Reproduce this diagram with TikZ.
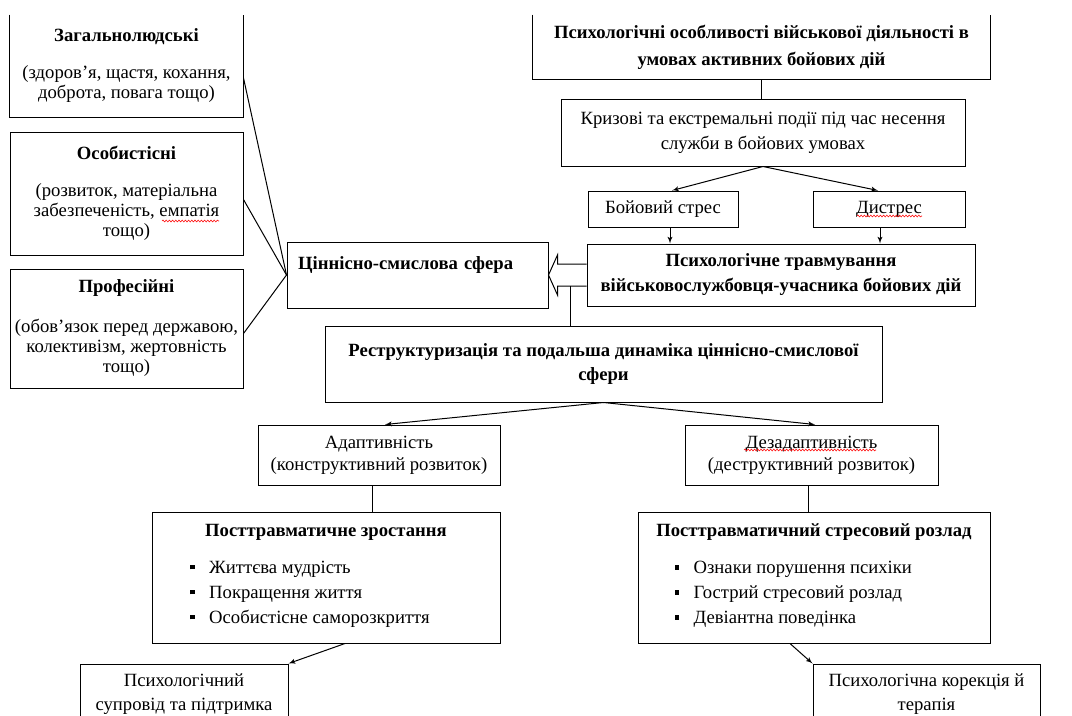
\documentclass[tikz,border=0pt]{standalone}
\usepackage{fontspec}
\setmainfont{Liberation Serif}
\usetikzlibrary{arrows,calc,decorations.pathmorphing}

\newcommand{\bul}{\rule[3pt]{3.2pt}{3.2pt}\hspace{11pt}}

\tikzset{
  blk/.style={draw, rectangle, align=center, inner sep=3pt, font=\fontsize{14}{18.75}\selectfont},
  opentop/.style={blk, draw=none},
  sz/.style 2 args={minimum width=#1*0.75pt, minimum height=#2*0.75pt},
  spell/.style={red, line width=0.4pt, decorate, decoration={snake, amplitude=0.7pt, segment length=2.4pt}},
}

\begin{document}
\begin{tikzpicture}[x=0.75pt, y=-0.75pt, >=latex', line width=0.75pt]
\path[use as bounding box, clip] (0,0) rectangle (1072,715);

\node[opentop, sz={233}{102}, font=\fontsize{14}{15}\selectfont] (zag) at (126.5,66)
  {\textbf{Загальнолюдські}\\[12.75pt](здоров’я, щастя, кохання,\\доброта, повага тощо)};
\node[blk, sz={233}{123}, font=\fontsize{14}{15}\selectfont] (osob) at (126.5,193.5)
  {\textbf{Особистісні}\\[12.75pt](розвиток, матеріальна\\забезпеченість, емпатія\\тощо)};
\node[blk, sz={233}{119}, font=\fontsize{14}{15}\selectfont] (prof) at (126.5,328.5)
  {\textbf{Професійні}\\[15pt](обов’язок перед державою,\\колективізм, жертовність\\тощо)};

\node[opentop, sz={457}{64}, font=\fontsize{14}{20.25}\bfseries] (osobl) at (761.5,47)
  {Психологічні особливості військової діяльності в\\умовах активних бойових дій};
\node[blk, sz={404}{67}] (kryz) at (763,132.5)
  {Кризові та екстремальні події під час несення\\служби в бойових умовах};
\node[blk, sz={150}{36}] (boy) at (663,209) {Бойовий стрес};
\node[blk, sz={152}{36}] (dys) at (889,209) {Дистрес};
\node[blk, sz={388}{62}, font=\fontsize{14}{18.75}\bfseries] (trauma) at (781,275)
  {Психологічне травмування\\військовослужбовця-учасника бойових дій};
\node[blk, sz={261}{66}, align=left, inner xsep=8.25pt, text width=179pt, text depth=18pt,
  font=\fontsize{14}{18.75}\bfseries] (cin) at (417.5,275) {Ціннісно-смислова сфера};

\node[blk, sz={557}{76}, font=\fontsize{14}{18}\bfseries] (restr) at (603.5,364)
  {Реструктуризація та подальша динаміка ціннісно-смислової\\сфери};
\node[blk, sz={242}{60}, font=\fontsize{14}{16.5}\selectfont] (adapt) at (379,455)
  {Адаптивність\\(конструктивний розвиток)};
\node[blk, sz={253}{60}, font=\fontsize{14}{16.5}\selectfont] (dezad) at (811.5,455)
  {Дезадаптивність\\(деструктивний розвиток)};

\node[blk, sz={348}{131}] (ptz) at (326,577.5)
  {\textbf{Посттравматичне зростання}\\[9pt]
   \begin{tabular}[t]{@{}l@{}}\bul Життєва мудрість\\ \bul Покращення життя\\
   \bul Особистісне саморозкриття\end{tabular}\hspace*{24pt}};
\node[blk, sz={352}{131}] (ptsr) at (814,577.5)
  {\textbf{Посттравматичний стресовий розлад}\\[9pt]
   \begin{tabular}[t]{@{}l@{}}\bul Ознаки порушення психіки\\ \bul Гострий стресовий розлад\\
   \bul Девіантна поведінка\end{tabular}\hspace*{31pt}};

\node[blk, sz={208}{60}, font=\fontsize{14}{18}\selectfont] (suprov) at (184,694)
  {Психологічний\\супровід та підтримка};
\node[blk, sz={227}{60}, font=\fontsize{14}{18}\selectfont] (korek) at (926.5,694)
  {Психологічна корекція й\\терапія};

% boxes cut at the top edge
\draw (zag.north west) -- (zag.south west) -- (zag.south east) -- (zag.north east);
\draw (osobl.north west) -- (osobl.south west) -- (osobl.south east) -- (osobl.north east);

\draw (osobl.south) -- (osobl.south |- kryz.north);
\draw [->] (kryz.south) -- ($(boy.north)+(9,0)$);
\draw [->] (kryz.south) -- ($(dys.north)+(-11,0)$);
\draw [->] ($(boy.south)+(7,0)$) -- ($(boy.south |- trauma.north)+(7,0)$);
\draw [->] ($(dys.south)+(-9,0)$) -- ($(dys.south |- trauma.north)+(-9,0)$);

\draw ($(zag.east)+(0,12)$) -- (cin.west);
\draw ($(osob.east)+(0,6)$) -- (cin.west);
\draw ($(prof.east)+(0,5)$) -- (cin.west);

\draw ($(trauma.west)+(0,-11)$) -| ($(cin.east)+(9,-20)$) -- (cin.east)
  -- ($(cin.east)+(9,20)$) |- ($(trauma.west)+(0,11)$);
\coordinate (split) at ($(trauma.west)+(-16,11)$);
\draw (split) -- (split |- restr.north);

\draw [->] (restr.south) -- ($(adapt.north)+(6,0)$);
\draw [->] (restr.south) -- ($(dezad.north)+(3.5,0)$);
\draw ($(adapt.south)+(-7,0)$) -- ($(adapt.south |- ptz.north)+(-7,0)$);
\draw ($(dezad.south)+(-3.5,0)$) -- ($(dezad.south |- ptsr.north)+(-3.5,0)$);
\draw [->] ($(ptz.south)+(19,0)$) -- (suprov.north east);
\draw [->] ($(ptsr.south)+(-24,0)$) -- (korek.north west);

% spell-check marks
\draw [spell] (162,221) -- (219,221);
\draw [spell] (857,216) -- (922,216);
\draw [spell] (744,450) -- (876,450);
\end{tikzpicture}
\end{document}
